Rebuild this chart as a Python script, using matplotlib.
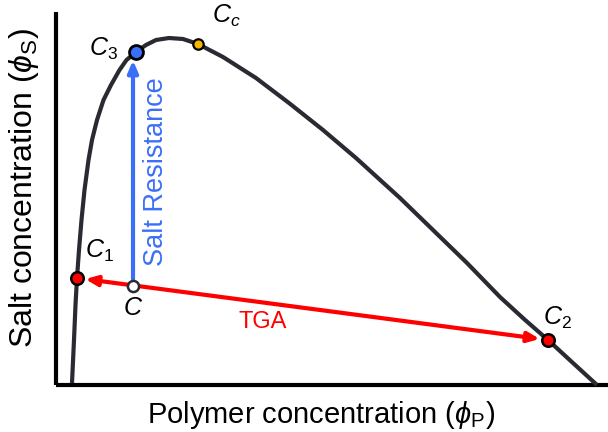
import matplotlib
matplotlib.use("Agg")
import matplotlib.pyplot as plt

plt.rcParams['font.family'] = ['Liberation Sans', 'DejaVu Sans']
plt.rcParams['mathtext.fontset'] = 'custom'
plt.rcParams['mathtext.rm'] = 'Liberation Sans'
plt.rcParams['mathtext.it'] = 'Liberation Sans:italic'
plt.rcParams['mathtext.bf'] = 'Liberation Sans:bold'

# Binodal curve (arbitrary units: polymer conc. x, salt conc. y)
curve_x = [16, 18, 19.5, 21, 23, 25.5, 28.5, 32.5, 36, 41, 47.5, 55, 63.5,
           70.5, 80, 90, 100, 113, 127, 142, 167, 200, 233, 267, 300, 344,
           377, 411, 444, 468, 492, 517, 541]
curve_y = [2, 45, 80, 107, 135, 165, 195, 225, 245, 265, 285, 300, 315,
           325, 333, 340, 345, 347, 346, 341, 328, 307, 282, 255, 227, 187,
           155, 122, 88, 66, 45, 22, 0]

# Special points
pt_C1 = (21, 107)
pt_C2 = (492, 45)
pt_C3 = (80, 333)
pt_Cc = (142, 341)
pt_C = (77, 99)

labels = {
    'C1': r'$\mathit{C_1}$',
    'C2': r'$\mathit{C_2}$',
    'C3': r'$\mathit{C_3}$',
    'Cc': r'$\mathit{C_c}$',
    'C': r'$\mathit{C}$',
}

fig = plt.figure(figsize=(6.08, 4.32), dpi=100)
ax = fig.add_axes([56/608, 47/432, 552/608, 373/432])
ax.set_xlim(0, 552)
ax.set_ylim(0, 373)

for s in ['top', 'right']:
    ax.spines[s].set_visible(False)
for s in ['left', 'bottom']:
    ax.spines[s].set_linewidth(3.0)
    ax.spines[s].set_color('black')
    ax.spines[s].set_capstyle('butt')
ax.set_xticks([])
ax.set_yticks([])

curve_color = '#2a2a33'
ax.plot(curve_x, curve_y, color=curve_color, lw=3.0, solid_joinstyle='round',
        solid_capstyle='butt', zorder=3, clip_on=False)

red = '#ff0000'
blue = '#3a6ff7'

# TGA double-headed arrow C1 <-> C2
ax.annotate('', xy=pt_C1, xytext=pt_C2,
            arrowprops=dict(arrowstyle='<|-|>,head_length=0.7,head_width=0.3',
                            color=red, lw=3.0, shrinkA=6, shrinkB=6),
            zorder=4)
# Salt resistance arrow C -> C3
ax.annotate('', xy=(pt_C[0], pt_C3[1]), xytext=pt_C,
            arrowprops=dict(arrowstyle='-|>,head_length=0.7,head_width=0.3',
                            color=blue, lw=3.0, shrinkA=5, shrinkB=6),
            zorder=4)

ax.plot(*pt_C1, 'o', ms=9, mfc=red, mec='black', mew=1.8, zorder=6, clip_on=False)
ax.plot(*pt_C2, 'o', ms=9, mfc=red, mec='black', mew=1.8, zorder=6, clip_on=False)
ax.plot(*pt_C3, 'o', ms=10, mfc=blue, mec='black', mew=2.0, zorder=6, clip_on=False)
ax.plot(*pt_Cc, 'o', ms=7.5, mfc='#f7b500', mec='black', mew=1.6, zorder=6, clip_on=False)
ax.plot(*pt_C, 'o', ms=8, mfc='white', mec=curve_color, mew=1.8, zorder=6, clip_on=False)

fs = 18
ax.text(pt_C1[0] + 8, pt_C1[1] + 27, labels['C1'], fontsize=fs, ha='left', va='center')
ax.text(pt_C2[0] + 9, pt_C2[1] + 22, labels['C2'], fontsize=fs, ha='center', va='center')
ax.text(pt_C3[0] - 33, pt_C3[1] + 3, labels['C3'], fontsize=fs, ha='center', va='center')
ax.text(pt_Cc[0] + 28, pt_Cc[1] + 28, labels['Cc'], fontsize=fs, ha='center', va='center')
ax.text(pt_C[0], pt_C[1] - 22, labels['C'], fontsize=fs, ha='center', va='center')

ax.text(207, 63, 'TGA', color=red, fontsize=17, ha='center', va='center')
ax.text(100, 213, 'Salt Resistance', color=blue, fontsize=19.5, rotation=90,
        ha='center', va='center')

ax.set_xlabel(r'Polymer concentration ($\phi_{\mathrm{P}}$)', fontsize=21, va='center')
ax.set_ylabel(r'Salt concentration ($\phi_{\mathrm{S}}$)', fontsize=23, va='center')
ax.xaxis.set_label_coords(0.48, -0.08)
ax.yaxis.set_label_coords(-0.058, 0.528)

fig.savefig('out.png', dpi=100)
